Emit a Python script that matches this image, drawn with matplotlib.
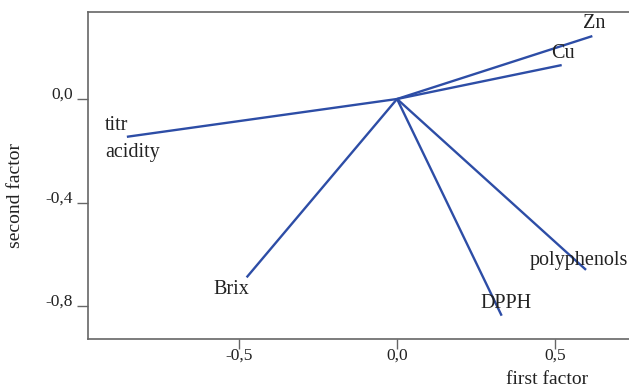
import matplotlib
matplotlib.use("Agg")
import matplotlib.pyplot as plt
from matplotlib.ticker import FuncFormatter

plt.rcParams['font.family'] = ['Liberation Serif', 'DejaVu Serif']

# loadings (first factor, second factor)
variables = ["Zn", "Cu", "titr\nacidity", "Brix", "DPPH", "polyphenols"]
first_factor = [0.618, 0.521, -0.855, -0.476, 0.331, 0.598]
second_factor = [0.243, 0.131, -0.146, -0.689, -0.837, -0.660]

# where the names sit
label_x = [0.624, 0.524, -0.924, -0.525, 0.344, 0.576]
label_y = [0.293, 0.174, -0.154, -0.737, -0.790, -0.622]
label_ha = ["center", "center", "left", "center", "center", "center"]

xticks = [-0.5, 0.0, 0.5]
yticks = [0.0, -0.4, -0.8]

line_color = "#2d4da6"
text_color = "#222222"
spine_color = "#666666"

fig = plt.figure(figsize=(6.29, 3.87), dpi=100)
ax = fig.add_axes([88 / 629, 48 / 387, 1 - 88 / 629, 327 / 387])

for fx, fy in zip(first_factor, second_factor):
    ax.plot([0, fx], [0, fy], color=line_color, lw=1.7, solid_capstyle="butt")

for name, tx, ty, ha in zip(variables, label_x, label_y, label_ha):
    ax.text(tx, ty, name, ha=ha, va="center", fontsize=14.5, color=text_color,
            linespacing=1.6)

ax.set_xlim(-0.978, 0.734)
ax.set_ylim(-0.927, 0.336)

ax.set_xticks(xticks)
ax.set_yticks(yticks)
comma = FuncFormatter(lambda v, pos: f"{v:.1f}".replace(".", ",").replace("-0,0", "0,0"))
ax.xaxis.set_major_formatter(comma)
ax.yaxis.set_major_formatter(comma)
ax.tick_params(axis="both", direction="out", color=spine_color, labelsize=12.5,
               labelcolor=text_color, width=1)
ax.tick_params(axis="x", length=7, pad=-1)
ax.tick_params(axis="y", length=8, pad=3)
for lab in ax.get_yticklabels():
    lab.set_va("baseline")

for side in ["left", "bottom", "top"]:
    ax.spines[side].set_color(spine_color)
    ax.spines[side].set_linewidth(1.2)
ax.spines["right"].set_visible(False)

fig.text(547 / 629, 1 - 379 / 387, "first factor", ha="center", va="center",
         fontsize=14, color=text_color)
fig.text(15 / 629, 1 - 195 / 387, "second factor", ha="center", va="center",
         rotation=90, fontsize=14, color=text_color)

fig.savefig("out.png", dpi=100)
